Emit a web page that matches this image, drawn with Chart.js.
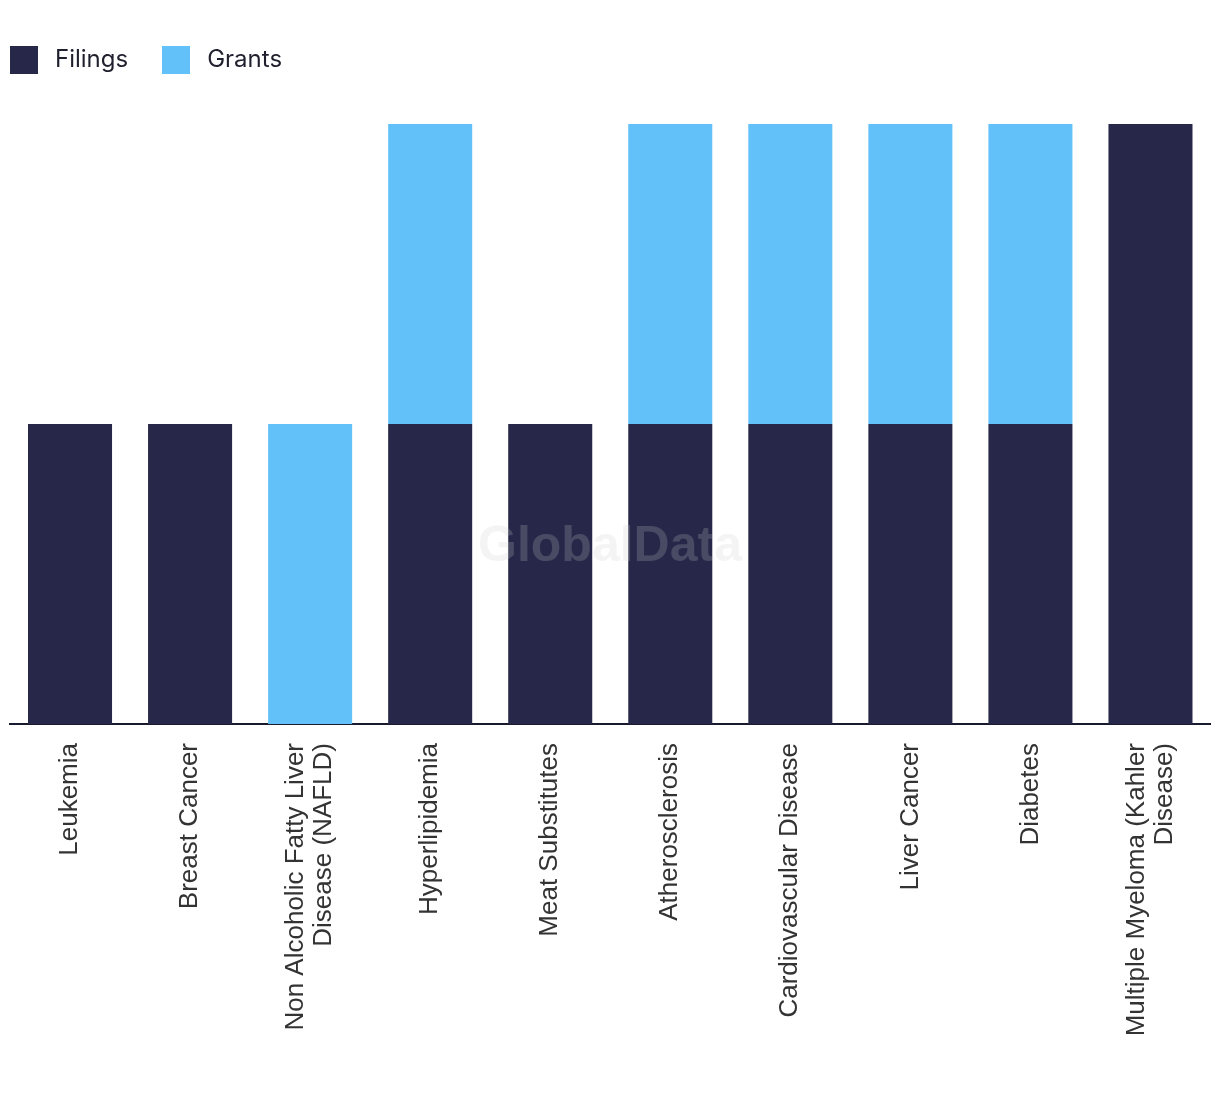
<!DOCTYPE html>
<html>
<head>
<meta charset="utf-8">
<script src="https://cdn.jsdelivr.net/npm/chart.js@4/dist/chart.umd.min.js"></script>
<style>
  html, body { margin: 0; padding: 0; background: #ffffff; }
  #wrap { position: relative; width: 1220px; height: 1094px; }
  #legend { position: absolute; left: 10px; top: 46px; height: 28px; display: flex; align-items: center; font-family: Inter, "Noto Sans", sans-serif; font-size: 24px; color: #1f1f2e; }
  .item { display: flex; align-items: center; margin-right: 34px; }
  .box { width: 28px; height: 28px; margin-right: 17px; }
  .item span { position: relative; top: -2px; }
  canvas { position: absolute; left: 0; top: 0; }
</style>
</head>
<body>
<div id="wrap">
  <canvas id="c" width="1220" height="1094"></canvas>
  <div id="legend"></div>
</div>
<script>
const categories = [
  "Leukemia",
  "Breast Cancer",
  ["Non Alcoholic Fatty Liver", "Disease (NAFLD)"],
  "Hyperlipidemia",
  "Meat Substitutes",
  "Atherosclerosis",
  "Cardiovascular Disease",
  "Liver Cancer",
  "Diabetes",
  ["Multiple Myeloma (Kahler", "Disease)"]
];
const seriesNames = ["Filings", "Grants"];
const filings = [1, 1, 0, 1, 1, 1, 1, 1, 1, 2];
const grants  = [0, 0, 1, 1, 0, 1, 1, 1, 1, 0];
const colors = ["#272849", "#63c1f9"];

// HTML legend
const legendEl = document.getElementById('legend');
seriesNames.forEach((n, i) => {
  const it = document.createElement('div'); it.className = 'item';
  const b = document.createElement('div'); b.className = 'box'; b.style.background = colors[i];
  const t = document.createElement('span'); t.textContent = n;
  it.appendChild(b); it.appendChild(t); legendEl.appendChild(it);
});

const watermark = {
  id: 'watermark',
  afterDatasetsDraw(chart) {
    const ctx = chart.ctx;
    ctx.save();
    ctx.font = 'bold 50px "Liberation Sans", Arial, sans-serif';
    ctx.fillStyle = 'rgba(203,203,203,0.21)';
    ctx.textAlign = 'center';
    ctx.textBaseline = 'middle';
    ctx.fillText('GlobalData', 610, 547);
    ctx.restore();
  }
};

// centre multi-line rotated labels on their tick
const centreLabels = {
  id: 'centreLabels',
  beforeDraw(chart) {
    const s = chart.scales.x;
    if (!s._centrePatched) {
      const orig = s._computeLabelItems;
      s._computeLabelItems = function (area) {
        const items = orig.call(this, area);
        items.forEach(it => {
          if (Array.isArray(it.label) && it.label.length > 1) {
            it.textOffset -= (it.label.length - 1) * it.font.lineHeight / 2;
          }
        });
        return items;
      };
      s._centrePatched = true;
      s._labelItems = null;
    }
  }
};

new Chart(document.getElementById('c'), {
  type: 'bar',
  data: {
    labels: categories,
    datasets: [
      { label: seriesNames[0], data: filings, backgroundColor: colors[0], barPercentage: 0.7, categoryPercentage: 1 },
      { label: seriesNames[1], data: grants, backgroundColor: colors[1], barPercentage: 0.7, categoryPercentage: 1 }
    ]
  },
  options: {
    responsive: false,
    animation: false,
    layout: { padding: { top: 124, left: 10, right: 9.5, bottom: 0 } },
    plugins: { legend: { display: false }, tooltip: { enabled: false } },
    scales: {
      x: {
        stacked: true,
        grid: { display: false },
        border: { display: true, color: '#1a1a2e', width: 2 },
        ticks: {
          maxRotation: 90, minRotation: 90, padding: 11, autoSkip: false,
          color: '#333333',
          font: { family: '"Liberation Sans", Arial, sans-serif', size: 26, lineHeight: 1.08 }
        },
        afterFit(s) { s.height = 370; }
      },
      y: {
        stacked: true, display: false, min: 0, max: 2
      }
    }
  },
  plugins: [watermark, centreLabels]
});
</script>
</body>
</html>
